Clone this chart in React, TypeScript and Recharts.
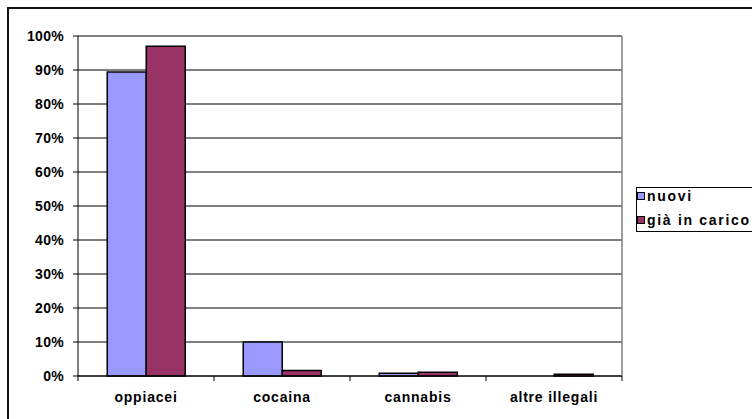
import React from "react";
import {
  BarChart,
  Bar,
  XAxis,
  YAxis,
  CartesianGrid,
  Legend,
  ReferenceLine,
} from "recharts";

const categories = ["oppiacei", "cocaina", "cannabis", "altre illegali"];
const nuovi = [0.894, 0.1, 0.008, 0];
const giaInCarico = [0.97, 0.016, 0.011, 0.005];
const yTicks = [0, 0.1, 0.2, 0.3, 0.4, 0.5, 0.6, 0.7, 0.8, 0.9, 1];
const seriesNames = ["nuovi", "già in carico"];
const seriesColors = ["#9999FF", "#993366"];

const data = categories.map((c, i) => ({
  cat: c,
  nuovi: nuovi[i],
  gia: giaInCarico[i],
}));

const FONT = "'Liberation Sans', Arial, sans-serif";

const CatTick = (props: any) => {
  const { x, y, payload, index, visibleTicksCount } = props;
  const half = payload && payload.offset ? payload.offset : 0;
  const isLast = index === visibleTicksCount - 1;
  return (
    <g>
      <line x1={x - half} x2={x - half} y1={y} y2={y + 5} stroke="#000" />
      {isLast && (
        <line x1={x + half} x2={x + half} y1={y} y2={y + 5} stroke="#000" />
      )}
      <text
        x={x}
        y={y}
        dy={26}
        textAnchor="middle"
        fontFamily={FONT}
        fontWeight="bold"
        fontSize={14}
        letterSpacing={0.8}
        fill="#000"
      >
        {payload.value}
      </text>
    </g>
  );
};

const LegendContent = () => (
  <div
    style={{
      border: "1px solid #000",
      background: "#fff",
      padding: "0 0 3px 0",
      width: 130,
      boxSizing: "border-box",
      fontFamily: FONT,
      fontWeight: "bold",
      fontSize: 14,
      letterSpacing: 1.7,
    }}
  >
    {seriesNames.map((n, i) => (
      <div
        key={n}
        style={{
          display: "flex",
          alignItems: "center",
          height: 16,
          marginTop: i === 0 ? 0 : 8,
        }}
      >
        <span
          style={{
            display: "inline-block",
            width: 6,
            height: 6,
            border: "1px solid #000",
            background: seriesColors[i],
            marginRight: 2,
          }}
        />
        <span style={{ lineHeight: "16px" }}>{n}</span>
      </div>
    ))}
  </div>
);

export default function App() {
  return (
    <div
      style={{
        position: "absolute",
        left: 0,
        top: 0,
        width: 752,
        height: 419,
        background: "#fff",
        overflow: "hidden",
      }}
    >
      <div
        style={{
          position: "absolute",
          left: 7,
          top: 7,
          width: 800,
          height: 500,
          borderTop: "2px solid #111",
          borderLeft: "2px solid #111",
        }}
      />
      <div style={{ position: "absolute", left: 0, top: 0 }}>
        <BarChart
          width={752}
          height={419}
          data={data}
          margin={{ top: 36, right: 130, bottom: 13, left: 8 }}
          barCategoryGap="21.5%"
          barGap={0}
        >
          <CartesianGrid
            vertical={false}
            horizontal={true}
            stroke="#000"
            strokeWidth={1}
          />
          <CartesianGrid
            horizontal={false}
            vertical={true}
            stroke="#808080"
            strokeWidth={1.5}
            verticalCoordinatesGenerator={({ offset }: any) => [
              offset.left + offset.width,
            ]}
          />
          <ReferenceLine y={1} stroke="#808080" strokeWidth={1.5} />
          <XAxis
            dataKey="cat"
            type="category"
            height={30}
            tickLine={false}
            tickSize={0}
            tickMargin={0}
            axisLine={{ stroke: "#000" }}
            tick={<CatTick />}
            interval={0}
          />
          <YAxis
            width={70}
            domain={[0, 1]}
            ticks={yTicks}
            interval={0}
            tickFormatter={(v: number) => `${Math.round(v * 100)}%`}
            tickSize={5}
            tickMargin={9}
            axisLine={{ stroke: "#000" }}
            tickLine={{ stroke: "#000" }}
            tick={{
              fontFamily: FONT,
              fontWeight: "bold",
              fontSize: 14,
              letterSpacing: 0.3,
              fill: "#000",
            }}
          />
          <Legend
            layout="vertical"
            align="center"
            verticalAlign="middle"
            wrapperStyle={{ left: 636, top: 187, width: 130 }}
            content={<LegendContent />}
          />
          <Bar
            dataKey="nuovi"
            name={seriesNames[0]}
            fill={seriesColors[0]}
            stroke="#000"
            strokeWidth={1.5}
            isAnimationActive={false}
          />
          <Bar
            dataKey="gia"
            name={seriesNames[1]}
            fill={seriesColors[1]}
            stroke="#000"
            strokeWidth={1.5}
            isAnimationActive={false}
          />
        </BarChart>
      </div>
    </div>
  );
}
